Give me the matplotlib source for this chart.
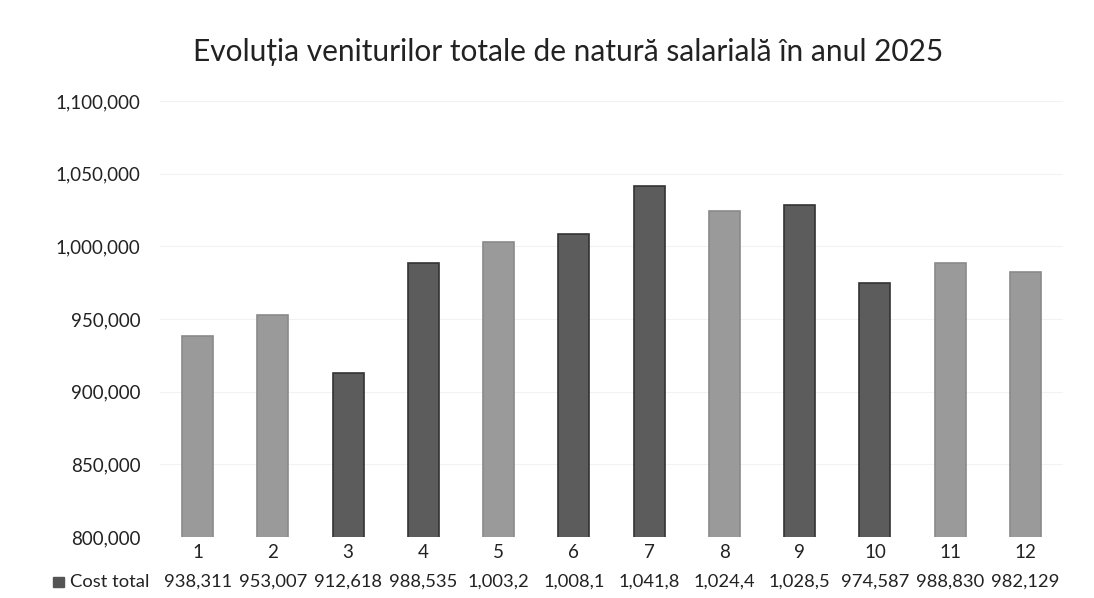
import matplotlib
matplotlib.use("Agg")
import matplotlib.pyplot as plt
from matplotlib.transforms import blended_transform_factory

# ── Data ──────────────────────────────────────────────────────────────────────
months = ["1", "2", "3", "4", "5", "6", "7", "8", "9", "10", "11", "12"]
cost_total = [938311, 953007, 912618, 988535, 1003245, 1008150,
              1041850, 1024450, 1028540, 974587, 988830, 982129]
series_name = "Cost total"
title = "Evoluția veniturilor totale de natură salarială în anul 2025"

# scan makes some bars look darker than others
dark = [False, False, True, True, False, True, True, False, True, True, False, False]
face = ["#5c5c5c" if d else "#9a9a9a" for d in dark]
edge = ["#333333" if d else "#8a8a8a" for d in dark]

plt.rcParams["font.family"] = ["Lato", "DejaVu Sans"]

fig = plt.figure(figsize=(10.94, 5.98), dpi=100)
ax = fig.add_axes([160 / 1094, 1 - 537 / 598, (1063 - 160) / 1094, (537 - 101) / 598])

x = list(range(len(months)))
ax.bar(x, cost_total, width=0.41, color=face, edgecolor=edge, linewidth=1.2, zorder=3)

ax.set_ylim(800000, 1100000)
ax.set_xlim(-0.5, len(months) - 0.5)
ax.set_yticks(range(800000, 1100001, 50000))
ax.yaxis.set_major_formatter(matplotlib.ticker.FuncFormatter(lambda v, p: f"{int(v):,}"))
ax.set_xticks(x)
ax.set_xticklabels(months)
ax.tick_params(axis="both", length=0, labelsize=13.5, colors="#222222")
ax.tick_params(axis="y", pad=14)
ax.tick_params(axis="x", pad=5)
ax.grid(axis="y", color="#f2f2f2", lw=0.8, zorder=0)
for s in ax.spines.values():
    s.set_visible(False)

fig.text(568 / 1094, 1 - 52 / 598, title, ha="center", va="center", fontsize=21.5, color="#222222")

# ── Data table row ────────────────────────────────────────────────────────────
tr = blended_transform_factory(ax.transData, fig.transFigure)
row_y = 1 - 582 / 598
for xi, v in zip(x, cost_total):
    ax.text(xi, row_y, f"{v:,}"[:7], transform=tr, ha="center", va="center",
            fontsize=13.2, color="#222222")
fig.text(70 / 1094, row_y, series_name, ha="left", va="center", fontsize=13.2, color="#222222")
fig.patches.append(matplotlib.patches.Rectangle((53 / 1094, row_y - 5 / 598), 11 / 1094, 10 / 598,
                                                transform=fig.transFigure, color="#555555"))

fig.savefig("out.png", dpi=100)
